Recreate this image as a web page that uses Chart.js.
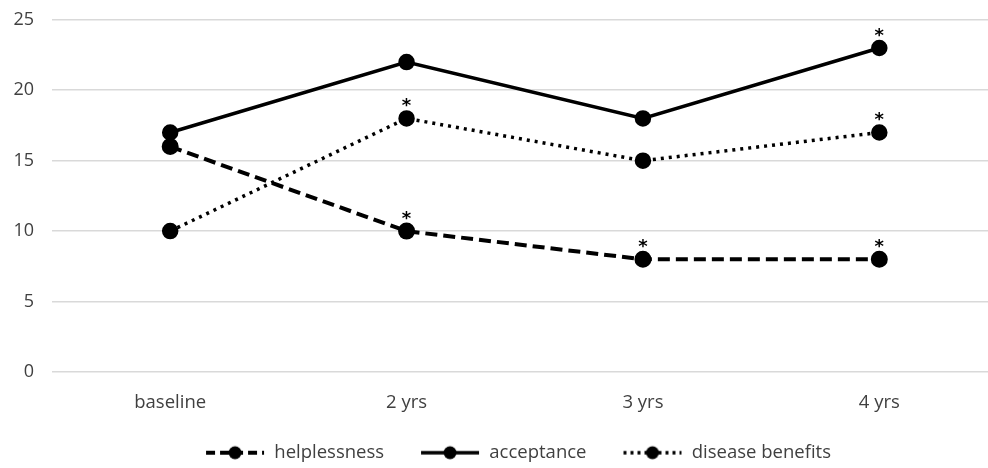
<!DOCTYPE html>
<html>
<head>
<meta charset="utf-8">
<script src="https://cdn.jsdelivr.net/npm/chart.js@4"></script>
<style>
  html, body { margin: 0; padding: 0; background: #fff; overflow: hidden; }
  #wrap { width: 988px; height: 468px; overflow: hidden; }
  #chart { display: block; margin-top: -9px; }
</style>
</head>
<body>
<div id="wrap"><canvas id="chart" width="1008" height="481"></canvas></div>
<script>
// chart values
const labels = ['baseline', '2 yrs', '3 yrs', '4 yrs'];
const helplessness = [16, 10, 8, 8];
const acceptance = [17, 22, 18, 23];
const diseaseBenefits = [10, 18, 15, 17];
// significance markers (* above point)
const starHelplessness = [false, true, true, true];
const starAcceptance = [false, false, false, true];
const starBenefits = [false, true, false, true];
const yTicks = [0, 5, 10, 15, 20, 25];

const FONT = '"Open Sans", sans-serif';
const TEXT = '#404040';

// legend symbol: line sample with a dot in the middle (blank margin on the left = item gap)
function legendSymbol(dash, lw) {
  const c = document.createElement('canvas');
  c.width = 88; c.height = 16;
  const g = c.getContext('2d');
  g.strokeStyle = '#000'; g.lineWidth = lw; g.setLineDash(dash);
  g.beginPath(); g.moveTo(29, 8); g.lineTo(87, 8); g.stroke();
  g.fillStyle = '#000';
  g.beginPath(); g.arc(58, 8, 6.5, 0, Math.PI * 2); g.fill();
  return c;
}

const stars = {
  id: 'stars',
  afterDatasetsDraw(chart) {
    const ctx = chart.ctx;
    const flags = [starHelplessness, starAcceptance, starBenefits];
    ctx.save();
    ctx.fillStyle = '#000';
    ctx.font = 'bold 18px "DejaVu Sans", sans-serif';
    ctx.textAlign = 'center';
    ctx.textBaseline = 'middle';
    chart.data.datasets.forEach((ds, i) => {
      chart.getDatasetMeta(i).data.forEach((pt, j) => {
        if (flags[i][j]) ctx.fillText('*', pt.x, pt.y - 12);
      });
    });
    ctx.restore();
  }
};

const symbols = [legendSymbol([9, 5], 4), legendSymbol([], 3.5), legendSymbol([3, 4], 3.5)];

new Chart(document.getElementById('chart'), {
  type: 'line',
  data: {
    labels: labels,
    datasets: [
      { label: 'helplessness', data: helplessness, borderColor: '#000', backgroundColor: '#000',
        borderWidth: 4, borderDash: [12, 6], pointRadius: 6.5, pointBackgroundColor: '#000', tension: 0 },
      { label: 'acceptance', data: acceptance, borderColor: '#000', backgroundColor: '#000',
        borderWidth: 3.5, pointRadius: 6.5, pointBackgroundColor: '#000', tension: 0 },
      { label: 'disease benefits', data: diseaseBenefits, borderColor: '#000', backgroundColor: '#000',
        borderWidth: 3.5, borderDash: [3, 5], pointRadius: 6.5, pointBackgroundColor: '#000', tension: 0 }
    ]
  },
  options: {
    responsive: false,
    animation: false,
    layout: { padding: 0 },
    plugins: {
      tooltip: { enabled: false },
      legend: {
        position: 'bottom',
        labels: {
          usePointStyle: true,
          pointStyleWidth: 88,
          color: TEXT,
          padding: 8,
          font: { family: FONT, size: 18.5 },
          generateLabels(chart) {
            return chart.data.datasets.map((ds, i) => ({
              text: ds.label, pointStyle: symbols[i], datasetIndex: i,
              fillStyle: '#000', strokeStyle: '#000', lineWidth: 0, hidden: false, fontColor: TEXT
            }));
          }
        }
      }
    },
    scales: {
      x: {
        offset: true,
        afterFit(scale) { scale.height = 63.5; },
        grid: { display: false, drawTicks: false },
        border: { display: false },
        ticks: { color: TEXT, padding: 20, font: { family: FONT, size: 18.5 } }
      },
      y: {
        min: 0, max: 25,
        afterBuildTicks(scale) { scale.ticks = yTicks.map(v => ({ value: v })); },
        afterFit(scale) { scale.width = 52; },
        grid: { color: '#d9d9d9', lineWidth: 1.5, drawTicks: false },
        border: { display: false },
        ticks: { color: TEXT, padding: 18, font: { family: FONT, size: 18 } }
      }
    }
  },
  plugins: [stars]
});
</script>
</body>
</html>
